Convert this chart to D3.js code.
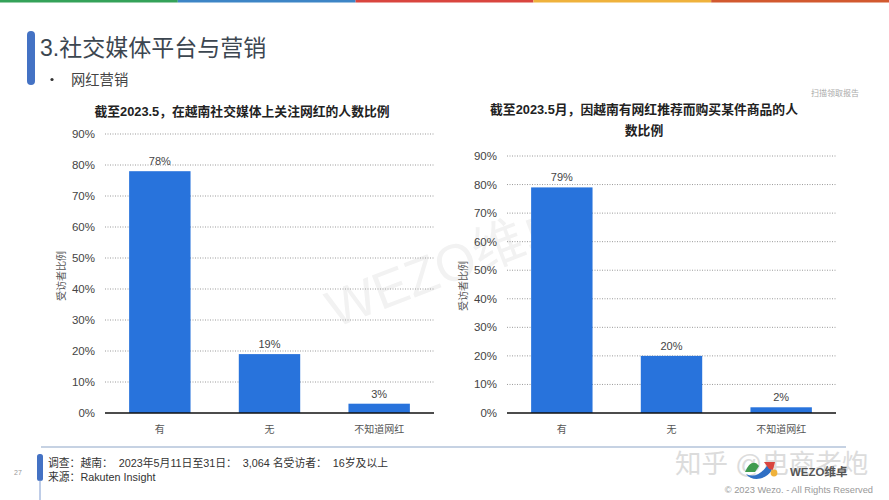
<!DOCTYPE html>
<html>
<head>
<meta charset="utf-8">
<script src="https://cdn.jsdelivr.net/npm/d3@7"></script>
<style>
body { margin: 0; background: #fff; }
svg { display: block; font-family: "Liberation Sans", "Noto Sans CJK SC", sans-serif; }
.grid line { stroke: #9a9a9a; stroke-width: 1; stroke-dasharray: 1 1.5; }
</style>
</head>
<body>
<svg width="889" height="500"></svg>
<script>
const categories = ['有', '无', '不知道网红'];
const leftValues = [78, 19, 3];
const rightValues = [79, 20, 2];
const yTicks = [0, 10, 20, 30, 40, 50, 60, 70, 80, 90];
const topBarColors = ['#34a259', '#3d85c6', '#d9453f', '#efb23c', '#d2592f'];

const svg = d3.select('svg');

// coloured strip along the top
const stripScale = d3.scaleBand().domain(d3.range(topBarColors.length)).range([0, 889]);
svg.selectAll('rect.strip').data(topBarColors).enter().append('rect')
    .attr('class', 'strip')
    .attr('x', (d, i) => stripScale(i))
    .attr('y', 0)
    .attr('width', stripScale.bandwidth())
    .attr('height', 2.5)
    .attr('fill', d => d);

// watermark
svg.append('text')
    .attr('transform', 'translate(335,328) rotate(-21)')
    .attr('font-size', 52)
    .attr('fill', '#f2f2f2')
    .text('WEZO维卓');

// heading
svg.append('rect').attr('x', 27).attr('y', 31).attr('width', 8).attr('height', 54).attr('rx', 4).attr('fill', '#4472c4');
svg.append('text').attr('x', 40).attr('y', 56).attr('font-size', 23).attr('fill', '#3c4650').text('3.社交媒体平台与营销');
svg.append('circle').attr('cx', 52).attr('cy', 79.5).attr('r', 1.6).attr('fill', '#333');
svg.append('text').attr('x', 71).attr('y', 85).attr('font-size', 14.3).attr('fill', '#444').text('网红营销');
svg.append('text').attr('x', 811).attr('y', 96).attr('font-size', 8).attr('fill', '#aaa').text('扫描领取报告');

function drawChart(opts) {
    const x = d3.scaleBand().domain(categories).range([opts.x0, opts.x1]).paddingInner(0.44).paddingOuter(0.22);
    const y = d3.scaleLinear().domain([0, 90]).range([opts.y0, opts.y1]);
    const g = svg.append('g');

    g.append('g').attr('class', 'grid')
        .selectAll('line').data(yTicks.slice(1)).enter().append('line')
        .attr('x1', opts.x0).attr('x2', opts.x1)
        .attr('y1', d => y(d)).attr('y2', d => y(d));

    g.selectAll('text.tick').data(yTicks).enter().append('text')
        .attr('class', 'tick')
        .attr('x', opts.x0 - 10)
        .attr('y', d => y(d) + 4)
        .attr('text-anchor', 'end')
        .attr('font-size', 11.5)
        .attr('fill', '#444')
        .text(d => d + '%');

    g.selectAll('rect.bar').data(opts.values).enter().append('rect')
        .attr('class', 'bar')
        .attr('x', (d, i) => x(categories[i]))
        .attr('y', d => y(d))
        .attr('width', x.bandwidth())
        .attr('height', d => y(0) - y(d))
        .attr('fill', '#2873dc');

    g.append('line').attr('x1', opts.x0).attr('x2', opts.x1)
        .attr('y1', y(0)).attr('y2', y(0))
        .attr('stroke', '#111').attr('stroke-width', 1.6);

    g.selectAll('text.val').data(opts.values).enter().append('text')
        .attr('class', 'val')
        .attr('x', (d, i) => x(categories[i]) + x.bandwidth() / 2)
        .attr('y', d => y(d) - 6)
        .attr('text-anchor', 'middle')
        .attr('font-size', 11)
        .attr('fill', '#444')
        .text(d => d + '%');

    g.selectAll('text.cat').data(categories).enter().append('text')
        .attr('class', 'cat')
        .attr('x', d => x(d) + x.bandwidth() / 2)
        .attr('y', opts.y0 + 20)
        .attr('text-anchor', 'middle')
        .attr('font-size', 10)
        .attr('fill', '#555')
        .text(d => d);

    g.append('text')
        .attr('transform', `translate(${opts.labelX},${opts.labelY}) rotate(-90)`)
        .attr('text-anchor', 'middle')
        .attr('font-size', 10)
        .attr('fill', '#555')
        .text('受访者比例');

    opts.title.forEach((t, i) => {
        g.append('text')
            .attr('x', opts.titleX)
            .attr('y', opts.titleY + i * 21)
            .attr('text-anchor', 'middle')
            .attr('font-size', 12.8)
            .attr('font-weight', 'bold')
            .attr('fill', '#222')
            .text(t);
    });
}

drawChart({
    x0: 105, x1: 434, y0: 413, y1: 134,
    values: leftValues,
    labelX: 65, labelY: 276,
    title: ['截至2023.5，在越南社交媒体上关注网红的人数比例'],
    titleX: 242, titleY: 116
});

drawChart({
    x0: 507, x1: 836, y0: 413, y1: 156,
    values: rightValues,
    labelX: 467, labelY: 286,
    title: ['截至2023.5月，因越南有网红推荐而购买某件商品的人', '数比例'],
    titleX: 644, titleY: 114
});

// footer
svg.append('line').attr('x1', 41).attr('x2', 846).attr('y1', 447).attr('y2', 447).attr('stroke', '#8ea6c8').attr('stroke-width', 1.2);
svg.append('rect').attr('x', 37).attr('y', 454).attr('width', 6).attr('height', 27).attr('rx', 2.5).attr('fill', '#4472c4');
svg.append('line').attr('x1', 40).attr('x2', 40).attr('y1', 480).attr('y2', 500).attr('stroke', '#7f9bd0').attr('stroke-width', 1);
svg.append('text').attr('x', 14).attr('y', 475).attr('font-size', 7).attr('fill', '#999').text('27');
svg.append('text').attr('x', 48).attr('y', 467).attr('font-size', 10.8).attr('fill', '#333').attr('xml:space', 'preserve').text('调查：越南：  2023年5月11日至31日：  3,064 名受访者：  16岁及以上');
svg.append('text').attr('x', 48).attr('y', 481).attr('font-size', 10.8).attr('fill', '#333').text('来源：Rakuten Insight');
svg.append('text').attr('x', 675).attr('y', 473).attr('font-size', 26.5).attr('fill', '#dcdcdc').text('知乎 @电商老炮');

// wezo logo
svg.append('path').attr('d', 'M745 472 C749 462 755 460 759 466 L755 472 Z').attr('fill', '#3f9b4f');
svg.append('path').attr('d', 'M746 474 C754 478 762 474 768 464 L772 470 C766 480 752 482 746 474 Z').attr('fill', '#2f6fc4');
svg.append('path').attr('d', 'M764 462 L775 462 L773 470 L769 469 Z').attr('fill', '#d9453f');
svg.append('circle').attr('cx', 774).attr('cy', 473).attr('r', 3.4).attr('fill', '#efb23c');
svg.append('text').attr('x', 790).attr('y', 476).attr('font-size', 11.5).attr('font-weight', 'bold').attr('fill', '#555').text('WEZO维卓');
svg.append('text').attr('x', 873).attr('y', 493).attr('text-anchor', 'end').attr('font-size', 9.3).attr('fill', '#999').text('© 2023 Wezo. - All Rights Reserved');
</script>
</body>
</html>
